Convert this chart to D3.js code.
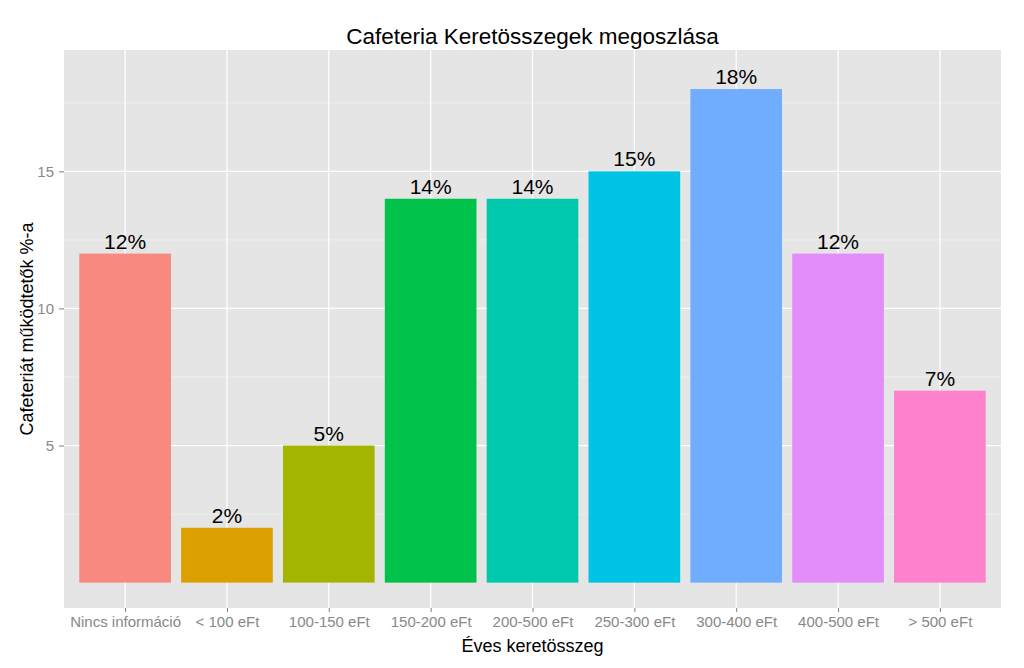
<!DOCTYPE html>
<html>
<head>
<meta charset="utf-8">
<script src="https://cdn.jsdelivr.net/npm/d3@7"></script>
<style>
  body { margin: 0; background: #fff; }
  text { font-family: "Liberation Sans", Arial, sans-serif; }
</style>
</head>
<body>
<div id="chart"></div>
<script>
var categories = ["Nincs információ", "< 100 eFt", "100-150 eFt", "150-200 eFt", "200-500 eFt", "250-300 eFt", "300-400 eFt", "400-500 eFt", "> 500 eFt"];
var values = [12, 2, 5, 14, 14, 15, 18, 12, 7];
var yTicks = [5, 10, 15];
var yMinor = [2.5, 7.5, 12.5, 17.5];
var colors = ["#F8897E", "#DC9F00", "#A3B500", "#00C24A", "#00C8AC", "#00C4E4", "#70ADFF", "#E28DF9", "#FF80CD"];

var W = 1024, H = 668;
var margin = { top: 50, left: 64, right: 23, bottom: 60 };
var width = W - margin.left - margin.right,
    height = H - margin.top - margin.bottom;

var svg = d3.select("#chart").append("svg")
    .attr("width", W)
    .attr("height", H);

var g = svg.append("g")
    .attr("transform", "translate(" + margin.left + "," + margin.top + ")");

// ggplot-like expansion: labels sit a bit above the highest bar
var yTop = d3.max(values) + 0.5;
var yPad = yTop * 0.05;

var x = d3.scalePoint().domain(categories).range([0, width]).padding(0.6);
var y = d3.scaleLinear().domain([-yPad, yTop + yPad]).range([height, 0]);
var barW = x.step() * 0.9;

g.append("rect")
  .attr("width", width)
  .attr("height", height)
  .attr("fill", "#E5E5E5");

g.selectAll(".minor")
  .data(yMinor)
  .enter().append("line")
  .attr("x1", 0).attr("x2", width)
  .attr("y1", function(d) { return y(d); })
  .attr("y2", function(d) { return y(d); })
  .attr("stroke", "#F2F2F2")
  .attr("stroke-width", 0.7);

g.selectAll(".major-y")
  .data(yTicks)
  .enter().append("line")
  .attr("x1", 0).attr("x2", width)
  .attr("y1", function(d) { return y(d); })
  .attr("y2", function(d) { return y(d); })
  .attr("stroke", "#fff")
  .attr("stroke-width", 1.3);

g.selectAll(".major-x")
  .data(categories)
  .enter().append("line")
  .attr("y1", 0).attr("y2", height)
  .attr("x1", function(d) { return x(d); })
  .attr("x2", function(d) { return x(d); })
  .attr("stroke", "#fff")
  .attr("stroke-width", 1.3);

g.selectAll(".bar")
  .data(values)
  .enter().append("rect")
  .attr("x", function(d, i) { return x(categories[i]) - barW / 2; })
  .attr("width", barW)
  .attr("y", function(d) { return y(d); })
  .attr("height", function(d) { return y(0) - y(d); })
  .attr("fill", function(d, i) { return colors[i]; });

g.selectAll(".lbl")
  .data(values)
  .enter().append("text")
  .attr("x", function(d, i) { return x(categories[i]); })
  .attr("y", function(d) { return y(d) - 5; })
  .attr("text-anchor", "middle")
  .attr("font-size", 21)
  .attr("fill", "#000")
  .text(function(d) { return d + "%"; });

// axes (d3 sets font-size on the group, so style the texts afterwards)
var xAxis = d3.axisBottom(x).tickSize(4).tickPadding(4);
var gx = g.append("g")
  .attr("transform", "translate(0," + height + ")")
  .call(xAxis);
gx.select(".domain").remove();
gx.selectAll(".tick line").attr("stroke", "#7F7F7F");
gx.selectAll(".tick text")
  .attr("fill", "#888")
  .style("font-size", "15px")
  .style("font-family", "Liberation Sans, Arial, sans-serif");

var yAxis = d3.axisLeft(y).tickValues(yTicks).tickSize(5).tickPadding(5);
var gy = g.append("g").call(yAxis);
gy.select(".domain").remove();
gy.selectAll(".tick line").attr("stroke", "#7F7F7F");
gy.selectAll(".tick text")
  .attr("fill", "#888")
  .style("font-size", "15px")
  .style("font-family", "Liberation Sans, Arial, sans-serif");

svg.append("text")
  .attr("x", margin.left + width / 2)
  .attr("y", 44)
  .attr("text-anchor", "middle")
  .attr("font-size", 22.5)
  .text("Cafeteria Keretösszegek megoszlása");

svg.append("text")
  .attr("x", margin.left + width / 2)
  .attr("y", 652)
  .attr("text-anchor", "middle")
  .attr("font-size", 18)
  .text("Éves keretösszeg");

svg.append("text")
  .attr("transform", "translate(33," + (margin.top + height / 2) + ") rotate(-90)")
  .attr("text-anchor", "middle")
  .attr("font-size", 18)
  .text("Cafeteriát működtetők %-a");
</script>
</body>
</html>
